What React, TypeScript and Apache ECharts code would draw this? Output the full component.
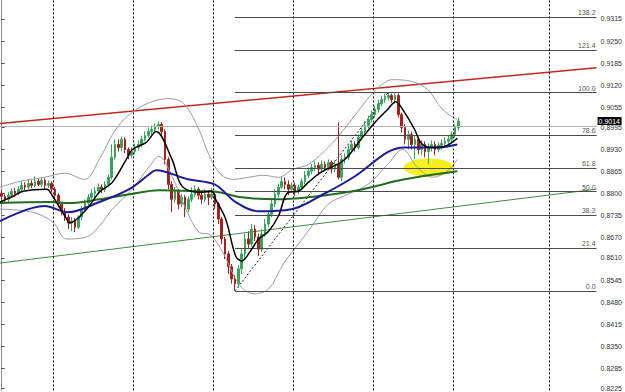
import React, { useEffect, useRef } from 'react';
import * as echarts from 'echarts';

// candles: [open, close, low, high] in pips (price * 10000)
const candles: number[][] = [
  [8801,8792,8780,8810],[8792,8783,8772,8798],[8783,8795,8775,8804],[8795,8807,8789,8816],
  [8807,8801,8789,8816],[8801,8813,8795,8822],[8813,8824,8807,8836],[8824,8819,8810,8833],
  [8819,8830,8813,8842],[8830,8824,8816,8839],[8824,8836,8819,8851],[8836,8827,8822,8845],
  [8827,8839,8819,8848],[8839,8824,8813,8845],[8824,8830,8816,8839],[8830,8813,8804,8836],
  [8813,8795,8783,8819],[8795,8769,8760,8801],[8769,8748,8736,8775],[8748,8731,8719,8757],
  [8731,8713,8695,8739],[8713,8719,8689,8731],[8719,8701,8686,8728],[8701,8731,8695,8736],
  [8731,8754,8722,8763],[8754,8772,8745,8783],[8772,8789,8760,8798],[8789,8801,8783,8813],
  [8801,8807,8789,8819],[8807,8819,8798,8830],[8819,8813,8801,8827],[8813,8827,8804,8836],
  [8827,8848,8819,8857],[8848,8907,8842,8945],[8907,8945,8901,8960],[8945,8936,8924,8960],
  [8936,8960,8924,8968],[8960,8930,8919,8966],[8930,8913,8901,8936],[8913,8924,8904,8936],
  [8924,8936,8916,8948],[8936,8945,8927,8957],[8945,8960,8936,8971],[8960,8971,8954,8983],
  [8971,8983,8966,8995],[8983,8989,8974,9001],[8989,8998,8983,9007],[8998,9004,8989,9013],
  [9004,8983,8971,9010],[8983,8901,8886,8989],[8901,8827,8813,8907],[8827,8783,8745,8836],
  [8783,8807,8772,8819],[8807,8769,8754,8813],[8769,8789,8760,8798],[8789,8754,8731,8795],
  [8754,8783,8745,8792],[8783,8798,8775,8819],[8798,8813,8789,8824],[8813,8795,8783,8819],
  [8795,8783,8769,8807],[8783,8798,8775,8813],[8798,8789,8766,8810],[8789,8798,8783,8816],
  [8798,8769,8754,8804],[8769,8725,8710,8775],[8725,8666,8651,8731],[8666,8622,8607,8672],
  [8622,8584,8563,8631],[8584,8548,8534,8592],[8548,8534,8513,8560],[8534,8578,8522,8589],
  [8578,8622,8563,8636],[8622,8666,8607,8681],[8666,8651,8636,8689],[8651,8695,8642,8710],
  [8695,8672,8660,8707],[8672,8636,8616,8681],[8636,8681,8628,8695],[8681,8710,8672,8725],
  [8710,8739,8701,8751],[8739,8769,8731,8783],[8769,8798,8760,8813],[8798,8819,8789,8830],
  [8819,8836,8813,8851],[8836,8827,8813,8848],[8827,8813,8795,8839],[8813,8824,8804,8833],
  [8824,8807,8792,8833],[8807,8819,8798,8827],[8819,8836,8810,8845],[8836,8854,8827,8866],
  [8854,8866,8845,8877],[8866,8877,8857,8886],[8877,8883,8866,8895],[8883,8872,8857,8892],
  [8872,8886,8860,8898],[8886,8877,8866,8895],[8877,8892,8869,8901],[8892,8872,8860,8898],
  [8872,8886,8863,8898],[8886,8848,8842,9010],[8848,8901,8836,8913],[8901,8907,8889,8919],
  [8907,8930,8898,8942],[8930,8945,8922,8957],[8945,8936,8924,8954],[8936,8966,8930,8974],
  [8966,8983,8957,8995],[8983,9001,8974,9013],[9001,9018,8992,9030],[9018,9033,9010,9045],
  [9033,9048,9024,9060],[9048,9065,9039,9077],[9065,9077,9057,9089],[9077,9083,9068,9095],
  [9083,9089,9074,9098],[9089,9077,9068,9095],[9077,9089,9065,9095],[9089,9033,9024,9095],
  [9033,8995,8980,9039],[8995,8960,8945,9004],[8960,8974,8930,8986],[8974,8945,8930,8983],
  [8945,8960,8901,8971],[8960,8930,8916,8968],[8930,8945,8913,8957],[8945,8924,8907,8954],
  [8924,8936,8886,8948],[8936,8945,8924,8957],[8945,8930,8913,8954],[8930,8942,8922,8951],
  [8942,8948,8930,8960],[8948,8954,8936,8966],[8954,8960,8942,8971],[8960,8974,8948,8983],
  [8974,8995,8966,9004],[8995,9014,8986,9024]
];

// indicator lines: [bar index, pips]
const fastMA: number[][] = [
  [-0.5,8775],[3.4,8792],[6.4,8807],[13.5,8813],[15.3,8792],[19.5,8725],[20.4,8713],[25.5,8754],
  [29.3,8804],[33.2,8833],[37.4,8901],[39.2,8930],[43.4,8951],[46.3,8983],[51.1,8901],[54.1,8822],
  [59.2,8804],[63,8807],[64.2,8783],[67.2,8725],[70.2,8616],[72,8601],[75,8636],[77.1,8666],
  [80.1,8689],[83,8733],[86,8804],[89,8807],[92,8833],[95.9,8863],[101.8,8892],[103.9,8910],
  [107.8,8960],[112,9010],[115.8,9048],[118.2,9071],[120.9,9039],[123.9,8989],[125.7,8951],
  [128.7,8936],[132.9,8939],[136.7,8963]
];
const mediumMA: number[][] = [
  [-0.5,8719],[12.9,8763],[19.8,8745],[29.3,8775],[38.3,8813],[44.3,8857],[46.3,8869],[55.9,8842],
  [63.9,8827],[70.2,8775],[77.1,8748],[86.9,8754],[96.5,8798],[106,8851],[115.8,8922],[120.9,8936],
  [130.8,8936],[136.7,8945]
];
const slowMA: number[][] = [
  [-0.5,8772],[14.4,8775],[20.4,8772],[29.3,8783],[38.3,8798],[47.2,8810],[59.2,8807],[65.1,8804],
  [72,8789],[82.1,8783],[92,8789],[106.9,8810],[120.9,8842],[136.7,8866]
];
const upperBand: number[][] = [
  [-0.5,8819],[5.5,8836],[12.9,8848],[18.9,8860],[24.9,8842],[29.3,8901],[33.8,8983],[38.3,9033],
  [44.3,9068],[50.2,9080],[54.7,9065],[59.2,8989],[62.1,8916],[65.7,8857],[69.6,8842],[74.1,8848],
  [78.6,8854],[83,8848],[87.5,8872],[92,8886],[98,8936],[103.9,9004],[108.4,9062],[112.9,9112],
  [117.3,9136],[123.3,9130],[127.8,9107],[132.3,9048],[136.7,9018]
];
const lowerBand: number[][] = [
  [-0.5,8754],[9.3,8745],[15.3,8716],[19.5,8666],[25.5,8672],[29.3,8704],[33.2,8754],[39.2,8813],
  [44.3,8880],[47.2,8910],[51.1,8851],[55.3,8754],[59.2,8686],[62.7,8678],[66.6,8622],[71.1,8534],
  [75.6,8504],[80.1,8519],[84.5,8592],[89,8651],[93.5,8710],[98,8769],[103.9,8798],[109.9,8827],
  [115.8,8886],[120.3,8930],[124.8,8877],[129.3,8848],[133.7,8866],[136.7,8901]
];

const redTrend: number[][] = [[-0.5, 9007], [178.5, 9171]];
const greenTrend: number[][] = [[-0.5, 8595], [178.5, 8813]];

const fibLow = { index: 70, price: 8513 };
const fibHigh = { index: 116, price: 9098 };
const fibRatios = [0, 21.4, 38.2, 50, 61.8, 78.6, 100, 121.4, 138.2];

const separators = [15.5, 39.5, 63.5, 87.5, 111.5, 135.5, 164.3];
const priceTicks = [0.8225, 0.8285, 0.8350, 0.8415, 0.8480, 0.8545, 0.8610, 0.8670, 0.8735,
  0.8800, 0.8865, 0.8930, 0.8995, 0.9055, 0.9120, 0.9185, 0.9250, 0.9315];
const bidPrice = 0.9014;
const highlight = { index: 128.1, price: 8877 };

const slotCount = 179;
const yMin = 0.82193;
const yMax = 0.9371;

const px = (p: number) => p / 10000;
const toLine = (arr: number[][]) => arr.map(([i, p]) => [i, px(p)]);

export default function App() {
  const ref = useRef<HTMLDivElement>(null);
  useEffect(() => {
    if (!ref.current) return;
    const chart = echarts.init(ref.current, undefined, { renderer: 'svg' });
    const font = 'Liberation Sans';
    const lineSeries = (name: string, data: number[][], color: string, width: number, z: number, smooth: number | boolean = 0.35, type: any = 'solid') => ({
      name, type: 'line', xAxisIndex: 1, yAxisIndex: 0, data: toLine(data),
      symbol: 'none', showSymbol: false, smooth, z, silent: true,
      lineStyle: { color, width, type },
    });
    const fibData = fibRatios.map((r) => {
      const v = px(fibLow.price + (r / 100) * (fibHigh.price - fibLow.price));
      return [
        { name: r.toFixed(1), coord: [fibLow.index, v] },
        { coord: [slotCount - 0.5, v] },
      ];
    });
    const option: any = {
      animation: false,
      backgroundColor: '#ffffff',
      grid: { left: 0, right: 25, top: 0, bottom: 0, containLabel: false },
      xAxis: [
        { type: 'category', data: Array.from({ length: slotCount }, (_, i) => String(i)), boundaryGap: true, show: false },
        { type: 'value', min: -0.5, max: slotCount - 0.5, show: false },
      ],
      yAxis: [{
        type: 'value', position: 'right', min: yMin, max: yMax,
        splitLine: { show: false },
        axisLine: { show: true, lineStyle: { color: '#8a8a8a', width: 1 } },
        axisTick: { show: true, length: 3, customValues: priceTicks, lineStyle: { color: '#555' } },
        axisLabel: {
          customValues: priceTicks, formatter: (v: number) => v.toFixed(4),
          fontSize: 7, lineHeight: 7, color: '#333', margin: 4, fontFamily: font,
        },
      }],
      series: [
        {
          name: 'Separators', type: 'line', xAxisIndex: 1, yAxisIndex: 0, data: toLine(redTrend),
          symbol: 'none', z: 1, silent: true, lineStyle: { color: '#c0281e', width: 1.5 },
          markLine: {
            silent: true, symbol: ['none', 'none'], animation: false,
            label: { show: false },
            lineStyle: { color: '#000', width: 1, type: [2, 2] },
            data: separators.map((s) => ({ xAxis: s })),
          },
        },
        {
          name: 'Fibo', type: 'line', xAxisIndex: 1, yAxisIndex: 0, data: toLine(greenTrend),
          symbol: 'none', z: 1, silent: true, lineStyle: { color: '#3c8c3c', width: 1 },
          markLine: {
            silent: true, symbol: ['none', 'none'], animation: false,
            lineStyle: { color: '#4a4a4a', width: 1, type: 'solid' },
            label: { show: true, position: 'insideEndTop', formatter: '{b}', fontSize: 7, color: '#555', distance: 1, fontFamily: font },
            data: fibData,
          },
        },
        {
          name: 'FiboBase', type: 'line', xAxisIndex: 1, yAxisIndex: 0,
          data: [[fibLow.index, px(fibLow.price)], [fibHigh.index, px(fibHigh.price)]],
          symbol: 'none', z: 1, silent: true, lineStyle: { color: '#222', width: 1, type: [2, 2] },
          markLine: {
            silent: true, symbol: ['none', 'none'], animation: false,
            lineStyle: { color: '#b4b4b4', width: 1, type: 'solid' },
            label: { show: false },
            data: [{ yAxis: bidPrice }],
          },
        },
        {
          name: 'Price', type: 'candlestick', xAxisIndex: 0, yAxisIndex: 0, z: 3, silent: true,
          barWidth: 2,
          data: candles.map(([o, c, l, h]) => [px(o), px(c), px(l), px(h)]),
          itemStyle: { color: '#38a35c', color0: '#a3201e', borderColor: '#38a35c', borderColor0: '#a3201e', borderWidth: 1 },
        },
        lineSeries('Upper', upperBand, '#9c9c9c', 1, 4),
        lineSeries('Lower', lowerBand, '#9c9c9c', 1, 4),
        lineSeries('Slow', slowMA, '#1f6e1f', 2, 5),
        lineSeries('Medium', mediumMA, '#1c1c9a', 2, 5),
        lineSeries('Fast', fastMA, '#000000', 1.5, 6),
      ],
    };
    chart.setOption(option);
    const [cx, cy] = chart.convertToPixel({ seriesIndex: 4 }, [highlight.index, px(highlight.price)]) as number[];
    const [ax, by] = chart.convertToPixel({ seriesIndex: 4 }, [slotCount - 0.5, bidPrice]) as number[];
    chart.setOption({
      graphic: [
        {
          type: 'ellipse', z: 0, silent: true,
          shape: { cx, cy, rx: 25, ry: 9 },
          style: { fill: '#f5f01e' },
        },
        {
          type: 'group', z: 100, silent: true,
          children: [
            { type: 'rect', shape: { x: ax + 1, y: Math.round(by) - 4, width: 24, height: 8 }, style: { fill: '#000' } },
            {
              type: 'text', x: ax + 2, y: Math.round(by),
              style: { text: bidPrice.toFixed(4), fill: '#fff', fontSize: 7, fontFamily: font, verticalAlign: 'middle', align: 'left' },
            },
          ],
        },
      ],
    });
    return () => chart.dispose();
  }, []);
  return <div ref={ref} style={{ position: 'fixed', left: 0, top: 0, width: 625, height: 392, background: '#fff' }} />;
}
